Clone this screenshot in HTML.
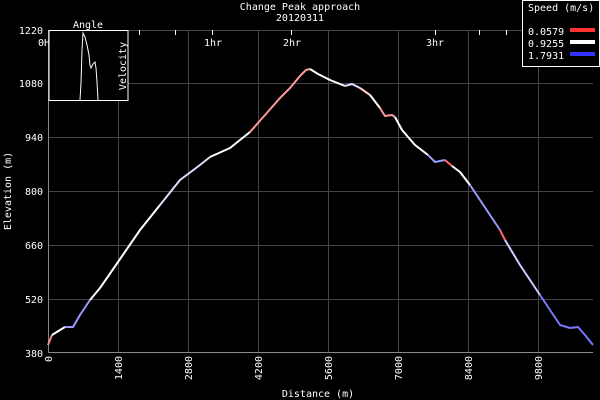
<!DOCTYPE html>
<html><head><style>body{margin:0;background:#000;}svg{display:block}text{font-family:"DejaVu Sans Mono","Liberation Mono",monospace;font-size:10px;fill:#fff}</style></head>
<body>
<svg width="600" height="400" viewBox="0 0 600 400">
<rect width="600" height="400" fill="#000"/>
<g stroke="#444" stroke-width="1">
<line x1="118.5" y1="30" x2="118.5" y2="352"/><line x1="188.5" y1="30" x2="188.5" y2="352"/><line x1="258.5" y1="30" x2="258.5" y2="352"/><line x1="328.5" y1="30" x2="328.5" y2="352"/><line x1="398.5" y1="30" x2="398.5" y2="352"/><line x1="468.5" y1="30" x2="468.5" y2="352"/><line x1="538.5" y1="30" x2="538.5" y2="352"/>
<line x1="48" y1="30.5" x2="593" y2="30.5"/><line x1="48" y1="83.5" x2="593" y2="83.5"/><line x1="48" y1="137.5" x2="593" y2="137.5"/><line x1="48" y1="191.5" x2="593" y2="191.5"/><line x1="48" y1="245.5" x2="593" y2="245.5"/><line x1="48" y1="299.5" x2="593" y2="299.5"/>
</g>
<g stroke="#888"><line x1="48.5" y1="30" x2="48.5" y2="352"/><line x1="48" y1="352.5" x2="593" y2="352.5"/></g>
<g stroke="#fff"><line x1="139.5" y1="30" x2="139.5" y2="35"/><line x1="175.5" y1="30" x2="175.5" y2="35"/><line x1="212.5" y1="30" x2="212.5" y2="35"/><line x1="291.5" y1="30" x2="291.5" y2="35"/><line x1="435.5" y1="30" x2="435.5" y2="35"/><line x1="479.5" y1="30" x2="479.5" y2="35"/><line x1="506.5" y1="30" x2="506.5" y2="35"/></g>
<g fill="none" stroke-width="2" stroke-linejoin="round">
<polyline stroke="#f88" points="48,345 52,335"/>
<polyline stroke="#fff" points="52,335 60,330 65,327"/>
<polyline stroke="#99f" points="65,327 73,327 80,315 90,300"/>
<polyline stroke="#fff" points="90,300 100,288 118,262 140,230 160,205"/>
<polyline stroke="#ddf" points="160,205 180,180 200,165 210,157"/>
<polyline stroke="#fff" points="210,157 230,148 250,132"/>
<polyline stroke="#f99" points="250,132 265,115 280,98 290,88 300,76 306,70 310,69"/>
<polyline stroke="#fff" points="310,69 318,74 330,80 345,86"/>
<polyline stroke="#ddf" points="345,86 352,84 360,88"/>
<polyline stroke="#fcc" points="360,88 370,95"/>
<polyline stroke="#fff" points="370,95 380,108"/>
<polyline stroke="#f99" points="380,108 385,116 392,115 395,117"/>
<polyline stroke="#fff" points="395,117 402,130 415,145 428,155"/>
<polyline stroke="#99f" points="428,155 435,162 445,160"/>
<polyline stroke="#f66" points="445,160 452,166"/>
<polyline stroke="#fff" points="452,166 460,172 470,185"/>
<polyline stroke="#99f" points="470,185 480,200 500,230"/>
<polyline stroke="#f66" points="500,230 505,240"/>
<polyline stroke="#ccf" points="505,240 520,265 540,295"/>
<polyline stroke="#77f" points="540,295 560,325 570,328 578,327 585,335 593,345"/>
</g>
<g text-anchor="end"><text x="43" y="34">1220</text><text x="43" y="87">1080</text><text x="43" y="141">940</text><text x="43" y="195">800</text><text x="43" y="249">660</text><text x="43" y="303">520</text><text x="43" y="357">380</text></g>
<g text-anchor="end">
<text transform="translate(52,356) rotate(-90)">0</text>
<text transform="translate(122,356) rotate(-90)">1400</text>
<text transform="translate(192,356) rotate(-90)">2800</text>
<text transform="translate(262,356) rotate(-90)">4200</text>
<text transform="translate(332,356) rotate(-90)">5600</text>
<text transform="translate(402,356) rotate(-90)">7000</text>
<text transform="translate(472,356) rotate(-90)">8400</text>
<text transform="translate(542,356) rotate(-90)">9800</text>
</g>
<text x="38" y="46">0H</text><text x="204" y="46">1hr</text><text x="283" y="46">2hr</text><text x="426" y="46">3hr</text>
<text x="300" y="10" text-anchor="middle">Change Peak approach</text>
<text x="300" y="21" text-anchor="middle">20120311</text>
<text x="318" y="397" text-anchor="middle">Distance (m)</text>
<text transform="translate(11,191) rotate(-90)" text-anchor="middle">Elevation (m)</text>
<rect x="49" y="30.5" width="79" height="70" fill="#000" stroke="#fff"/>
<text x="88" y="28" text-anchor="middle">Angle</text>
<text transform="translate(126,66) rotate(-90)" text-anchor="middle">Velocity</text>
<polyline fill="none" stroke="#fff" points="80,100 81,83 82,50 83,33 85,37 87,45 89,55 90,65 91,68 93,64 95,62 96,68 97,82 98,100"/>
<rect x="522.5" y="0.5" width="77" height="66" fill="#000" stroke="#fff"/>
<text x="528" y="11">Speed (m/s)</text>
<text x="528" y="35">0.0579</text><text x="528" y="47">0.9255</text><text x="528" y="59">1.7931</text>
<rect x="570" y="28" width="25" height="4" fill="#f33"/><rect x="570" y="40" width="25" height="4" fill="#fff"/><rect x="570" y="52" width="25" height="4" fill="#33f"/>
</svg>
</body></html>
